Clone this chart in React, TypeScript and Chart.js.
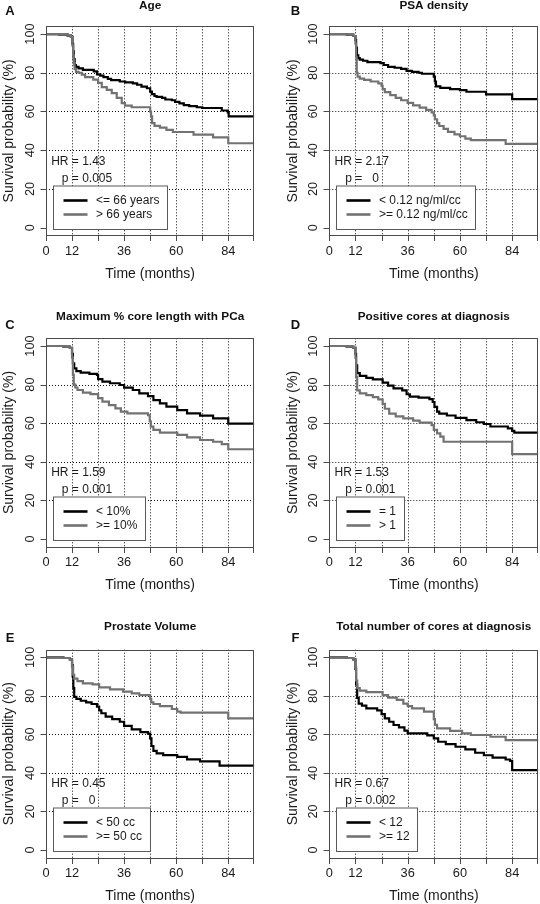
import React, { useEffect, useRef } from "react";
import { Chart, registerables } from "chart.js";

Chart.register(...registerables);

// ---------- axis definitions ----------
const xTickValues = [0, 12, 24, 36, 48, 60, 72, 84, 96];
const xTickLabels = ["0", "12", "", "36", "", "60", "", "84", ""];
const yTickValues = [0, 20, 40, 60, 80, 100];
const xGridValues = [12, 24, 36, 48, 60, 72, 84];
const yGridValues = [20, 40, 60, 80];

// ---------- A: Age ----------
const ageLeT = [0, 6, 10, 11.5, 12.2, 12.5, 12.8, 13.2, 13.8, 15, 17, 22, 23.5, 25, 26.5, 28.5, 30, 34, 36.5, 40, 42, 44, 46.5, 48, 48.8, 50, 51, 53.5, 55, 58, 59.5, 61.5, 63.5, 66, 69.5, 72, 81, 83.8, 84.2, 96];
const ageLeS = [100, 99.7, 99.2, 98.5, 95, 91, 87, 84, 83, 82.3, 81.5, 80.7, 79.2, 78.5, 77.8, 76.8, 76.2, 75.5, 75, 74.5, 73.8, 72.8, 72, 70.3, 69, 68, 67.5, 67, 66.2, 65.8, 65, 64.2, 63.3, 62.8, 62.2, 61.8, 60.5, 59.5, 57.5, 57.5];
const ageGtT = [0, 6, 10, 11.5, 12.2, 12.5, 12.8, 13.2, 13.8, 15, 16.5, 18, 21.8, 24, 25.7, 28, 30.3, 32.6, 34.9, 36.4, 39.5, 48, 48.4, 48.9, 50, 52.5, 55.5, 58.5, 68, 77, 84, 96];
const ageGtS = [100, 99.7, 99.2, 98.5, 94, 89, 85, 82, 80.5, 80, 79, 77.8, 76.5, 74.8, 72.6, 71.2, 69.5, 67, 64.3, 63, 62.2, 60, 57.5, 54, 52.6, 51.7, 50.5, 49.4, 48, 46.6, 43.6, 43.6];

// ---------- B: PSA density ----------
const psaLoT = [0, 8, 11, 12, 12.3, 12.7, 13.3, 14, 15.5, 17.5, 23.5, 25, 27, 30, 33, 35.5, 38, 41, 42.5, 48, 48.5, 49, 51, 55.5, 60, 63, 72, 84, 96];
const psaLoS = [100, 99.7, 99, 97, 93, 89, 87.6, 86.8, 86.2, 85.5, 85, 84, 83, 82.6, 82, 81, 80.5, 80, 79.5, 78, 75.5, 73, 72.2, 71.6, 71, 70.2, 68.8, 66.4, 66.4];
const psaHiT = [0, 8, 11, 12, 12.3, 12.6, 13, 14, 16, 19, 22.5, 24, 24.5, 25.5, 28, 30.5, 33, 36, 38.5, 41.5, 44.5, 47, 48, 48.5, 49.5, 50.5, 52.5, 54.5, 57.5, 60, 62.5, 65, 81, 96];
const psaHiS = [100, 99.7, 99, 95, 88, 80, 78, 77, 76.3, 75.5, 74.5, 73.3, 71.5, 70, 68.5, 67, 65.8, 64.5, 63.2, 62, 60.8, 59.5, 58, 56, 54, 52.5, 51, 49.5, 48.2, 47.2, 46, 45.2, 43.3, 43.3];

// ---------- C: Maximum % core length ----------
const coreLoT = [0, 8, 11, 12, 12.4, 13, 14, 16, 20, 23.5, 24, 26, 29.5, 34, 36, 40, 43, 47, 49.5, 52.5, 55.5, 60.5, 65, 71, 77, 84, 96];
const coreLoS = [100, 99.7, 99, 96, 91, 88.4, 87, 86.2, 85.6, 85, 82.8, 81.5, 80.7, 79.8, 78.4, 77.2, 75.5, 74, 72, 70.3, 68.6, 66.8, 65.1, 63.9, 62.5, 59.8, 59.8];
const coreHiT = [0, 8, 11, 12, 12.4, 12.8, 13.5, 14.5, 17, 20.5, 24, 26, 29, 32, 34.5, 37.5, 47, 47.8, 48.3, 49.5, 52.5, 60.5, 65, 71, 77, 81, 84, 96];
const coreHiS = [100, 99.7, 99, 94, 85, 80, 78.5, 77.2, 75.8, 75.1, 73, 71.2, 69.4, 67.7, 66, 65.1, 64.2, 61, 58.2, 56.5, 55.1, 53.9, 52.7, 51.3, 50.4, 49.2, 46.5, 46.5];

// ---------- D: Positive cores ----------
const posEqT = [0, 8, 11, 12, 12.3, 12.8, 14, 17, 20, 24.5, 27, 29.5, 33.5, 35.5, 37, 41, 46, 47.5, 48.3, 49.5, 50.5, 54, 58, 63, 67.5, 71, 74, 82, 84, 85, 96];
const posEqS = [100, 99.7, 99, 96, 90, 86, 84.5, 83.5, 82.7, 81, 79.5, 78.1, 77, 75, 73.8, 73.3, 72.5, 71, 68.5, 66, 65, 64, 62.8, 61.6, 60.5, 59.6, 58.3, 57.3, 56, 55.1, 55.1];
const posGtT = [0, 8, 11, 12, 12.3, 12.8, 14, 17, 20, 22.5, 24.5, 25.5, 27.5, 30.5, 34, 38.5, 41.5, 47, 48, 49.5, 51, 52.5, 84, 96];
const posGtS = [100, 99.7, 99, 94, 84, 77, 75.5, 74.6, 73.5, 72.4, 70, 67.5, 65, 63.5, 62.5, 61.3, 60.3, 59, 56.5, 54.7, 53, 50.4, 44, 44];

// ---------- E: Prostate volume ----------
const volLoT = [0, 8, 11, 12, 12.3, 12.6, 13, 14, 16, 18.5, 21, 23.5, 24.5, 25.5, 27.5, 30.5, 34, 36, 39.5, 43.5, 47, 48, 48.6, 49.5, 51, 54, 60.5, 65, 71, 80, 96];
const volLoS = [100, 99.7, 99, 96, 90, 84, 79.5, 78.5, 77.5, 76.6, 75.8, 74.4, 72.5, 71, 69.2, 68, 66.6, 64.4, 62.6, 61.2, 60.4, 58, 54, 51.5, 50.2, 49.3, 48.4, 47.1, 46, 43.8, 43.8];
const volHiT = [0, 8, 11, 12, 12.5, 13, 14.5, 17, 21.5, 24.5, 29.5, 35.5, 39.5, 43, 48, 48.5, 49.5, 52.5, 58, 60.5, 62, 84, 96];
const volHiS = [100, 99.7, 99, 95, 91, 89, 87.7, 86.5, 86, 84.4, 83.4, 82.2, 81.3, 80.4, 78.5, 76.6, 75.8, 74.7, 73.2, 71.8, 71.3, 68.3, 68.3];

// ---------- F: Total number of cores ----------
const totLoT = [0, 8, 11, 12, 12.3, 12.8, 13.5, 15, 17, 22, 24, 25.5, 27.5, 29.5, 32, 34.5, 36, 45, 48, 50, 53.5, 58, 62.5, 67, 71, 75, 81, 83, 84, 96];
const totLoS = [100, 99.7, 99, 94, 86, 79, 76, 75, 73.5, 72.5, 70.5, 68.3, 66.6, 64.9, 63.7, 62, 60.6, 59.5, 58, 56.2, 55, 53.6, 52.2, 50.5, 49.2, 48, 47, 46.3, 41.5, 41.5];
const totHiT = [0, 8, 11, 12, 12.3, 12.8, 14, 17, 24.5, 27, 31, 34, 36, 38, 43.5, 48, 48.5, 49.5, 55.5, 61, 65, 74, 81, 96];
const totHiS = [100, 99.7, 99, 95, 88, 84, 82.8, 82, 80.4, 79.1, 77.9, 76, 74.7, 73.5, 71.8, 68, 65, 63.1, 61.9, 60.6, 59.7, 58.8, 57.1, 57.1];

const BLACK = "#000000";
const GRAY = "#727272";
const FONT = '"Liberation Sans", Arial, Helvetica, sans-serif';

type Series = { label: string; t: number[]; s: number[]; color: string };
type PanelDef = {
  letter: string;
  title: string;
  series: Series[];
  hr: string;
  p: string;
  col: number;
  row: number;
};

const panels: PanelDef[] = [
  { letter: "A", title: "Age", col: 0, row: 0, hr: "1.43", p: "0.005",
    series: [{ label: "<= 66 years", t: ageLeT, s: ageLeS, color: BLACK }, { label: "> 66 years", t: ageGtT, s: ageGtS, color: GRAY }] },
  { letter: "B", title: "PSA density", col: 1, row: 0, hr: "2.17", p: "  0",
    series: [{ label: "< 0.12 ng/ml/cc", t: psaLoT, s: psaLoS, color: BLACK }, { label: ">= 0.12 ng/ml/cc", t: psaHiT, s: psaHiS, color: GRAY }] },
  { letter: "C", title: "Maximum % core length with PCa", col: 0, row: 1, hr: "1.59", p: "0.001",
    series: [{ label: "< 10%", t: coreLoT, s: coreLoS, color: BLACK }, { label: ">= 10%", t: coreHiT, s: coreHiS, color: GRAY }] },
  { letter: "D", title: "Positive cores at diagnosis", col: 1, row: 1, hr: "1.53", p: "0.001",
    series: [{ label: "= 1", t: posEqT, s: posEqS, color: BLACK }, { label: "> 1", t: posGtT, s: posGtS, color: GRAY }] },
  { letter: "E", title: "Prostate Volume", col: 0, row: 2, hr: "0.45", p: "  0",
    series: [{ label: "< 50 cc", t: volLoT, s: volLoS, color: BLACK }, { label: ">= 50 cc", t: volHiT, s: volHiS, color: GRAY }] },
  { letter: "F", title: "Total number of cores at diagnosis", col: 1, row: 2, hr: "0.67", p: "0.002",
    series: [{ label: "< 12", t: totLoT, s: totLoS, color: BLACK }, { label: ">= 12", t: totHiT, s: totHiS, color: GRAY }] },
];

// layout geometry (page pixels)
const COLS = [
  { cx: 0, cw: 270, left: 46, right: 254.3, letterX: 10 },
  { cx: 270, cw: 270, left: 329.3, right: 538.3, letterX: 295.5 },
];
const ROWS = [
  { cy: 0, ch: 300, top: 26.3, bottom: 235.4, titleY: 5.6, letterY: 11.3 },
  { cy: 300, ch: 300, top: 338.3, bottom: 546.7, titleY: 316.7, letterY: 325.3 },
  { cy: 600, ch: 304, top: 649.7, bottom: 857.7, titleY: 627.2, letterY: 638.8 },
];

function makeDecor(panel: PanelDef) {
  const col = COLS[panel.col];
  const row = ROWS[panel.row];
  return {
    id: "kmDecor",
    beforeDatasetsDraw(chart: any) {
      const { ctx, chartArea: a, scales } = chart;
      const x = scales.x;
      const y = scales.y;
      ctx.save();
      ctx.strokeStyle = "#111";
      ctx.lineWidth = 1;
      ctx.setLineDash([1, 2]);
      for (const g of xGridValues) {
        const px = Math.round(x.getPixelForValue(g)) + 0.5;
        ctx.beginPath();
        ctx.moveTo(px, a.top);
        ctx.lineTo(px, a.bottom);
        ctx.stroke();
      }
      for (const g of yGridValues) {
        const py = Math.round(y.getPixelForValue(g)) + 0.5;
        ctx.beginPath();
        ctx.moveTo(a.left, py);
        ctx.lineTo(a.right, py);
        ctx.stroke();
      }
      ctx.restore();
    },
    afterDatasetsDraw(chart: any) {
      const { ctx, chartArea: a, scales } = chart;
      const x = scales.x;
      const y = scales.y;
      ctx.save();
      ctx.setLineDash([]);
      // box
      const L = Math.round(a.left) + 0.5;
      const R = Math.round(a.right) - 0.5;
      const T = Math.round(a.top) + 0.5;
      const B = Math.round(a.bottom) + 0.5;
      ctx.strokeStyle = "#4a4a4a";
      ctx.lineWidth = 1;
      ctx.strokeRect(L, T, R - L, B - T);
      // x ticks
      ctx.beginPath();
      for (const v of xTickValues) {
        const px = Math.round(x.getPixelForValue(v)) + 0.5;
        ctx.moveTo(Math.min(px, R), B);
        ctx.lineTo(Math.min(px, R), B + 5.5);
      }
      // y ticks
      for (const v of yTickValues) {
        const py = Math.round(y.getPixelForValue(v)) + 0.5;
        ctx.moveTo(L, py);
        ctx.lineTo(L - 6, py);
      }
      ctx.stroke();

      ctx.fillStyle = "#1a1a1a";
      // x tick labels
      ctx.font = `12.8px ${FONT}`;
      ctx.textAlign = "center";
      ctx.textBaseline = "middle";
      xTickValues.forEach((v, i) => {
        if (!xTickLabels[i]) return;
        ctx.fillText(xTickLabels[i], x.getPixelForValue(v), a.bottom + 15.6);
      });
      // y tick labels rotated
      for (const v of yTickValues) {
        ctx.save();
        ctx.translate(a.left - 16, y.getPixelForValue(v));
        ctx.rotate(-Math.PI / 2);
        ctx.fillText(String(v), 0, 0);
        ctx.restore();
      }
      // axis titles
      ctx.font = `14px ${FONT}`;
      ctx.fillText("Time (months)", (a.left + a.right) / 2, a.bottom + 38.5);
      ctx.save();
      ctx.translate(a.left - 36.5, (a.top + a.bottom) / 2);
      ctx.rotate(-Math.PI / 2);
      ctx.fillText("Survival probability (%)", 0, 0);
      ctx.restore();

      // title
      const cy = row.cy;
      const cx = col.cx;
      ctx.fillStyle = "#111";
      ctx.font = `bold 11.8px ${FONT}`;
      ctx.fillText(panel.title, (a.left + a.right) / 2, row.titleY - cy);
      // panel letter
      ctx.font = `bold 13px ${FONT}`;
      ctx.fillText(panel.letter, col.letterX - cx, row.letterY - cy);

      // HR / p text
      ctx.fillStyle = "#1a1a1a";
      ctx.font = `12px ${FONT}`;
      const eqX = a.left + 22.5;
      const hrY = y.getPixelForValue(34.3);
      const pY = y.getPixelForValue(25.5);
      ctx.textAlign = "right";
      ctx.fillText("HR", eqX, hrY);
      ctx.fillText("p", eqX, pY);
      ctx.textAlign = "left";
      ctx.fillText(" = " + panel.hr, eqX, hrY);
      ctx.fillText(" = " + panel.p, eqX, pY);

      // legend
      ctx.font = `12px ${FONT}`;
      let maxW = 0;
      for (const s of panel.series) maxW = Math.max(maxW, ctx.measureText(s.label).width);
      const lgLeft = Math.round(a.left + 6.5) + 0.5;
      const lgBottom = Math.round(a.bottom - 6.3) + 0.5;
      const lgH = 43.5;
      const lgTop = lgBottom - lgH;
      const lgW = Math.round(42.5 + maxW + 8);
      ctx.fillStyle = "#ffffff";
      ctx.fillRect(lgLeft, lgTop, lgW, lgH);
      ctx.strokeStyle = "#5a5a5a";
      ctx.lineWidth = 1;
      ctx.strokeRect(lgLeft, lgTop, lgW, lgH);
      panel.series.forEach((s, i) => {
        const ly = lgTop + 14.5 + i * 14;
        ctx.strokeStyle = s.color;
        ctx.lineWidth = 2.6;
        ctx.beginPath();
        ctx.moveTo(lgLeft + 10, ly);
        ctx.lineTo(lgLeft + 34, ly);
        ctx.stroke();
        ctx.fillStyle = "#1a1a1a";
        ctx.textAlign = "left";
        ctx.textBaseline = "middle";
        ctx.fillText(s.label, lgLeft + 42.5, ly);
      });
      ctx.restore();
    },
  };
}

function KMPanel({ panel }: { panel: PanelDef }) {
  const ref = useRef<HTMLCanvasElement | null>(null);
  const col = COLS[panel.col];
  const row = ROWS[panel.row];
  useEffect(() => {
    if (!ref.current) return;
    const datasets = [...panel.series].reverse().map((s) => ({
      label: s.label,
      data: s.t.map((t, i) => ({ x: t, y: s.s[i] })),
      borderColor: s.color,
      backgroundColor: s.color,
      borderWidth: 2.2,
      pointRadius: 0,
      stepped: "before" as const,
      fill: false,
    }));
    const chart = new Chart(ref.current, {
      type: "line",
      data: { datasets },
      options: {
        animation: false,
        responsive: false,
        maintainAspectRatio: false,
        devicePixelRatio: 1,
        layout: {
          padding: {
            left: col.left - col.cx,
            right: col.cx + col.cw - col.right,
            top: row.top - row.cy,
            bottom: row.cy + row.ch - row.bottom,
          },
        },
        scales: {
          x: { type: "linear", min: 0, max: 96, display: false },
          y: { type: "linear", min: -4, max: 104, display: false },
        },
        plugins: {
          legend: { display: false },
          tooltip: { enabled: false },
          title: { display: false },
        },
      },
      plugins: [makeDecor(panel)],
    });
    return () => chart.destroy();
  }, [panel]);
  return (
    <canvas
      ref={ref}
      width={col.cw}
      height={row.ch}
      style={{ position: "absolute", left: col.cx, top: row.cy, width: col.cw, height: row.ch }}
    />
  );
}

export default function App() {
  return (
    <div style={{ position: "absolute", left: 0, top: 0, width: 540, height: 904, background: "#ffffff", overflow: "hidden" }}>
      {panels.map((p) => (
        <KMPanel key={p.letter} panel={p} />
      ))}
    </div>
  );
}
